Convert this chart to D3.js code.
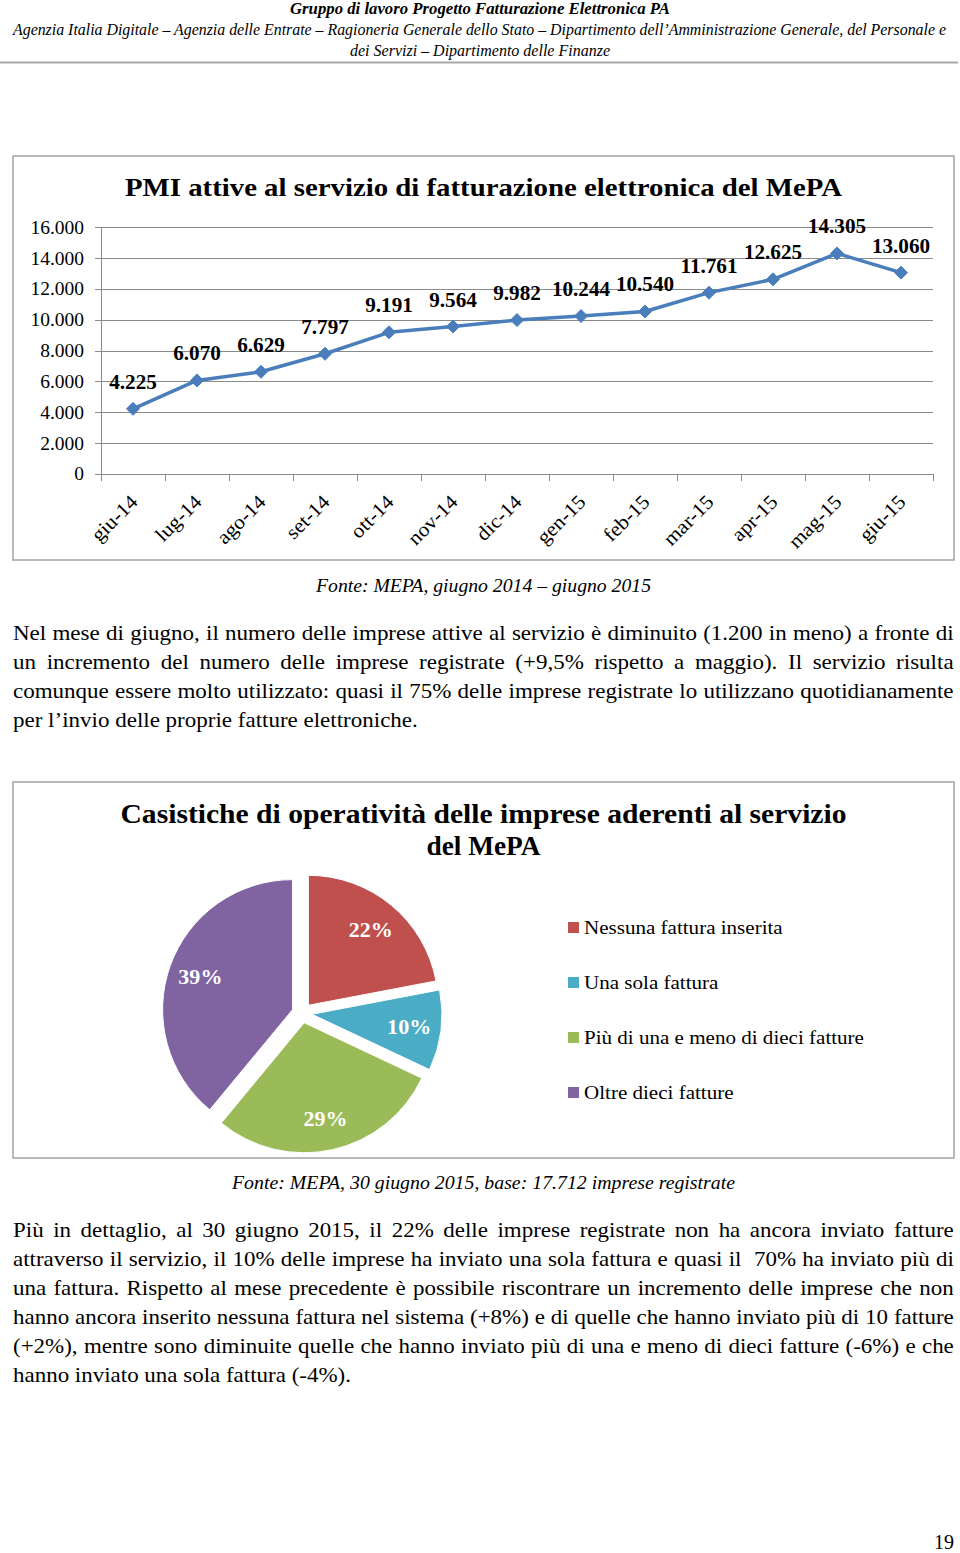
<!DOCTYPE html>
<html><head><meta charset="utf-8">
<script src="https://cdn.jsdelivr.net/npm/d3@7"></script>
<style>
body{margin:0;background:#fff}
svg{display:block}
text{font-family:"Liberation Serif","Times New Roman",serif;fill:#000}
</style>
</head><body>
<svg id="page" width="960" height="1553"></svg>
<script>
// ---------- DATA ----------
const months = ["giu-14","lug-14","ago-14","set-14","ott-14","nov-14","dic-14","gen-15","feb-15","mar-15","apr-15","mag-15","giu-15"];
const activeSmes = [4225,6070,6629,7797,9191,9564,9982,10244,10540,11761,12625,14305,13060];
const yTickValues = [0,2000,4000,6000,8000,10000,12000,14000,16000];

const pieCategories = ["Nessuna fattura inserita","Una sola fattura","Più di una e meno di dieci fatture","Oltre dieci fatture"];
const pieShares = [22,10,29,39];
const pieColors = ["#C0504D","#4BACC6","#9BBB59","#8064A2"];

const headerTitle = "Gruppo di lavoro Progetto Fatturazione Elettronica PA";
const headerLine2 = "Agenzia Italia Digitale – Agenzia delle Entrate – Ragioneria Generale dello Stato – Dipartimento dell’Amministrazione Generale, del Personale e";
const headerLine3 = "dei Servizi – Dipartimento delle Finanze";
const lineTitle = "PMI attive al servizio di fatturazione elettronica del MePA";
const lineSource = "Fonte: MEPA, giugno 2014 – giugno 2015";
const pieTitle = ["Casistiche di operatività delle imprese aderenti al servizio","del MePA"];
const pieSource = "Fonte: MEPA, 30 giugno 2015, base: 17.712 imprese registrate";
const paragraph1 = [
 "Nel mese di giugno, il numero delle imprese attive al servizio è diminuito (1.200 in meno) a fronte di",
 "un incremento del numero delle imprese registrate (+9,5% rispetto a maggio). Il servizio risulta",
 "comunque essere molto utilizzato: quasi il 75% delle imprese registrate lo utilizzano quotidianamente",
 "per l’invio delle proprie fatture elettroniche."
];
const paragraph2 = [
 "Più in dettaglio, al 30 giugno 2015, il 22% delle imprese registrate non ha ancora inviato fatture",
 "attraverso il servizio, il 10% delle imprese ha inviato una sola fattura e quasi il  70% ha inviato più di",
 "una fattura. Rispetto al mese precedente è possibile riscontrare un incremento delle imprese che non",
 "hanno ancora inserito nessuna fattura nel sistema (+8%) e di quelle che hanno inviato più di 10 fatture",
 "(+2%), mentre sono diminuite quelle che hanno inviato più di una e meno di dieci fatture (-6%) e che",
 "hanno inviato una sola fattura (-4%)."
];
const pageNumber = "19";

// ---------- PAGE ----------
const svg = d3.select("#page");
svg.append("rect").attr("width",960).attr("height",1553).attr("fill","#fff");

const it = d3.formatLocale({decimal:",",thousands:".",grouping:[3],currency:["€",""]});
const fmt = it.format(",");

// header
svg.append("text").attr("x",480).attr("y",13.5).attr("text-anchor","middle")
  .attr("font-size",16).attr("font-style","italic").attr("font-weight","bold")
  .attr("textLength",380).attr("lengthAdjust","spacingAndGlyphs").text(headerTitle);
svg.append("text").attr("x",13).attr("y",34.5)
  .attr("font-size",16).attr("font-style","italic")
  .attr("textLength",933).attr("lengthAdjust","spacingAndGlyphs").text(headerLine2);
svg.append("text").attr("x",480).attr("y",55.5).attr("text-anchor","middle")
  .attr("font-size",16).attr("font-style","italic")
  .attr("textLength",260).attr("lengthAdjust","spacingAndGlyphs").text(headerLine3);
svg.append("line").attr("x1",0).attr("x2",958).attr("y1",62.5).attr("y2",62.5)
  .attr("stroke","#a8a8a8").attr("stroke-width",2);

// ---------- LINE CHART ----------
svg.append("rect").attr("x",13).attr("y",156).attr("width",941).attr("height",404)
  .attr("fill","#fff").attr("stroke","#a3a3a3").attr("stroke-width",1.5);
svg.append("text").attr("x",483.5).attr("y",196).attr("text-anchor","middle")
  .attr("font-size",26).attr("font-weight","bold")
  .attr("textLength",717).attr("lengthAdjust","spacingAndGlyphs").text(lineTitle);

const x = d3.scaleBand().domain(months).range([101,933]).padding(0);
const y = d3.scaleLinear().domain([0,16000]).range([474,227.3]);

const gGrid = svg.append("g");
gGrid.selectAll("line").data(yTickValues).join("line")
  .attr("x1",95).attr("x2",933).attr("y1",d=>Math.round(y(d))+0.5).attr("y2",d=>Math.round(y(d))+0.5)
  .attr("stroke","#8a8a8a").attr("stroke-width",1);
svg.append("line").attr("x1",101.5).attr("x2",101.5).attr("y1",y(16000)).attr("y2",474)
  .attr("stroke","#8a8a8a");
svg.append("g").selectAll("text").data(yTickValues).join("text")
  .attr("x",84).attr("y",d=>y(d)).attr("dy","0.33em").attr("text-anchor","end")
  .attr("font-size",19.5).text(d=>fmt(d));

// x ticks at band boundaries
const bounds = months.map(m=>x(m)).concat([x(months[months.length-1])+x.bandwidth()]);
svg.append("g").selectAll("line").data(bounds).join("line")
  .attr("x1",d=>Math.round(d)+0.5).attr("x2",d=>Math.round(d)+0.5).attr("y1",474).attr("y2",481)
  .attr("stroke","#8a8a8a");
svg.append("g").selectAll("text").data(months).join("text")
  .attr("transform",d=>`translate(${x(d)+x.bandwidth()/2+6},${503}) rotate(-45) scale(1.08,1)`)
  .attr("text-anchor","end").attr("font-size",20).text(d=>d);

const cx = (d,i)=>x(months[i])+x.bandwidth()/2;
const lineGen = d3.line().x((d,i)=>cx(d,i)).y(d=>y(d));
svg.append("path").datum(activeSmes).attr("d",lineGen).attr("fill","none")
  .attr("stroke","#4A7EBB").attr("stroke-width",3.5).attr("stroke-linejoin","round");
svg.append("g").selectAll("path").data(activeSmes).join("path")
  .attr("transform",(d,i)=>`translate(${cx(d,i)},${y(d)})`)
  .attr("d","M0,-6.5L6.5,0L0,6.5L-6.5,0Z").attr("fill","#4A7EBB").attr("stroke","#4A7EBB").attr("stroke-width",1);
svg.append("g").selectAll("text").data(activeSmes).join("text")
  .attr("transform",(d,i)=>`translate(${cx(d,i)},${y(d)-20}) scale(1.06,1)`)
  .attr("text-anchor","middle")
  .attr("font-size",20).attr("font-weight","bold").text(d=>fmt(d));

svg.append("text").attr("x",483.5).attr("y",592).attr("text-anchor","middle")
  .attr("font-size",19).attr("font-style","italic")
  .attr("textLength",335).attr("lengthAdjust","spacingAndGlyphs").text(lineSource);

// ---------- PARAGRAPHS ----------
function drawParagraph(lines, firstBaseline, lastWidth){
  const g = svg.append("g");
  const fs = 21, left = 13, full = 941, lh = 29;
  const measure = s => { const t = g.append("text").attr("font-size",fs).style("white-space","pre").text(s); const w = t.node().getComputedTextLength(); t.remove(); return w; };
  const k = lastWidth / measure(lines[lines.length-1]);
  lines.forEach((line,i)=>{
    const nat = measure(line);
    const spaces = (line.match(/ /g)||[]).length;
    let ws = 0;
    if(i < lines.length-1 && spaces>0) ws = (full/k - nat)/spaces;
    g.append("text").attr("transform",`translate(${left},${firstBaseline+i*lh}) scale(${k},1)`)
      .attr("font-size",fs).style("word-spacing",ws+"px").style("white-space","pre").text(line);
  });
}
drawParagraph(paragraph1, 640, 405);

// ---------- PIE CHART ----------
svg.append("rect").attr("x",13).attr("y",782).attr("width",941).attr("height",376)
  .attr("fill","#fff").attr("stroke","#a3a3a3").attr("stroke-width",1.5);
pieTitle.forEach((t,i)=>{
  svg.append("text").attr("x",483.5).attr("y",823+i*32).attr("text-anchor","middle")
    .attr("font-size",27).attr("font-weight","bold")
    .attr("textLength",i===0?726:114).attr("lengthAdjust","spacingAndGlyphs").text(t);
});

const pcx = 302, pcy = 1013, R = 130, explode = 10;
const pie = d3.pie().sort(null).value(d=>d).startAngle(0).endAngle(2*Math.PI);
const arcs = pie(pieShares);
const arc = d3.arc().innerRadius(0).outerRadius(R);
const labelArc = d3.arc().innerRadius(98).outerRadius(98);
const off = d=>{ const a=(d.startAngle+d.endAngle)/2; return [Math.sin(a)*explode, -Math.cos(a)*explode]; };
const gPie = svg.append("g").attr("transform",`translate(${pcx},${pcy})`);
gPie.selectAll("path").data(arcs).join("path")
  .attr("transform",d=>`translate(${off(d)})`)
  .attr("d",arc).attr("fill",(d,i)=>pieColors[i]).attr("stroke","#fff").attr("stroke-width",1);
gPie.selectAll("text").data(arcs).join("text")
  .attr("transform",d=>{const o=off(d), c=labelArc.centroid(d); return `translate(${c[0]+o[0]},${c[1]+o[1]}) scale(1.05,1)`;})
  .attr("text-anchor","middle").attr("dy","0.35em")
  .attr("font-size",21).attr("font-weight","bold").style("fill","#fff")
  .text(d=>d.data+"%");

// legend
const gLeg = svg.append("g");
pieCategories.forEach((c,i)=>{
  const yy = 927.5 + i*55;
  gLeg.append("rect").attr("x",568).attr("y",yy-5.5).attr("width",11).attr("height",11).attr("fill",pieColors[i]);
  gLeg.append("text").attr("transform",`translate(584,${yy+6.5}) scale(1.08,1)`).attr("font-size",19.5).text(c);
});

svg.append("text").attr("x",483.5).attr("y",1188.5).attr("text-anchor","middle")
  .attr("font-size",19).attr("font-style","italic")
  .attr("textLength",503).attr("lengthAdjust","spacingAndGlyphs").text(pieSource);

drawParagraph(paragraph2, 1237, 338);

svg.append("text").attr("x",954).attr("y",1549).attr("text-anchor","end")
  .attr("font-size",20).text(pageNumber);
</script>
</body></html>
